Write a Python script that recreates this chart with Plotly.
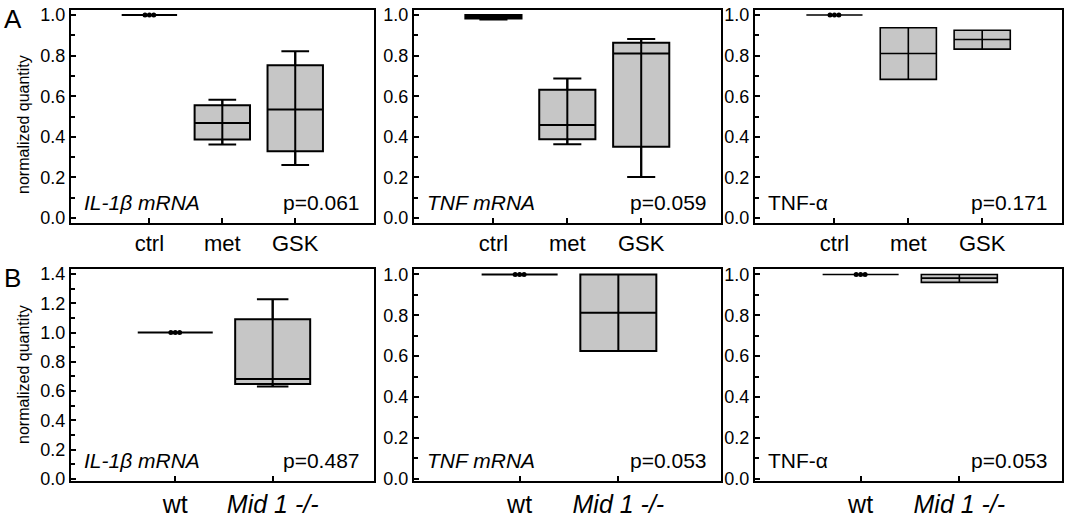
import plotly.graph_objects as go

# ---------------- data ----------------
A_cats = ["ctrl", "met", "GSK"]
B_cats = ["wt", "<i>Mid 1 -/-</i>"]

# Row A, panel 1: IL-1β mRNA
a1_lo = [1.0, 0.362, 0.262]
a1_q1 = [1.0, 0.387, 0.329]
a1_med = [1.0, 0.468, 0.535]
a1_q3 = [1.0, 0.556, 0.752]
a1_hi = [1.0, 0.583, 0.821]
a1_dots = [1.0, 1.0, 1.0]

# Row A, panel 2: TNF mRNA
a2_lo = [0.978, 0.364, 0.202]
a2_q1 = [0.982, 0.388, 0.351]
a2_med = [0.990, 0.458, 0.810]
a2_q3 = [1.0, 0.632, 0.863]
a2_hi = [1.0, 0.687, 0.882]
a2_dots = []

# Row A, panel 3: TNF-α
a3_lo = [1.0, 0.683, 0.832]
a3_q1 = [1.0, 0.683, 0.832]
a3_med = [1.0, 0.810, 0.879]
a3_q3 = [1.0, 0.937, 0.925]
a3_hi = [1.0, 0.937, 0.925]
a3_dots = [1.0, 1.0, 1.0]

# Row B, panel 1: IL-1β mRNA
b1_lo = [1.0, 0.632]
b1_q1 = [1.0, 0.648]
b1_med = [1.0, 0.683]
b1_q3 = [1.0, 1.090]
b1_hi = [1.0, 1.228]
b1_dots = [1.0, 1.0, 1.0]

# Row B, panel 2: TNF mRNA
b2_lo = [1.0, 0.625]
b2_q1 = [1.0, 0.625]
b2_med = [1.0, 0.812]
b2_q3 = [1.0, 1.0]
b2_hi = [1.0, 1.0]
b2_dots = [1.0, 1.0, 1.0]

# Row B, panel 3: TNF-α
b3_lo = [1.0, 0.961]
b3_q1 = [1.0, 0.961]
b3_med = [1.0, 0.982]
b3_q3 = [1.0, 1.0]
b3_hi = [1.0, 1.0]
b3_dots = [1.0, 1.0, 1.0]

labels = ["<i>IL-1β mRNA</i>", "<i>TNF mRNA</i>", "TNF-α"]
pvals_A = ["p=0.061", "p=0.059", "p=0.171"]
pvals_B = ["p=0.487", "p=0.053", "p=0.053"]
y_title = "normalized quantity"

# ---------------- layout constants ----------------
W, H = 1065, 518
FONT = "Liberation Sans, Arial, sans-serif"
FILL = "#c6c6c6"

col_px = [(71, 374), (414, 721), (755, 1062)]
rowA_px = (5, 224.5)
rowB_px = (272, 490)

def xdom(c):
    return [col_px[c][0] / W, col_px[c][1] / W]

def ydom(r):
    t, b = r
    return [1 - b / H, 1 - t / H]

panels = [
    dict(row="A", col=0, cats=A_cats, lo=a1_lo, q1=a1_q1, med=a1_med, q3=a1_q3, hi=a1_hi, dots=a1_dots,
         label=labels[0], p=pvals_A[0]),
    dict(row="A", col=1, cats=A_cats, lo=a2_lo, q1=a2_q1, med=a2_med, q3=a2_q3, hi=a2_hi, dots=a2_dots,
         label=labels[1], p=pvals_A[1]),
    dict(row="A", col=2, cats=A_cats, lo=a3_lo, q1=a3_q1, med=a3_med, q3=a3_q3, hi=a3_hi, dots=a3_dots,
         label=labels[2], p=pvals_A[2]),
    dict(row="B", col=0, cats=B_cats, lo=b1_lo, q1=b1_q1, med=b1_med, q3=b1_q3, hi=b1_hi, dots=b1_dots,
         label=labels[0], p=pvals_B[0]),
    dict(row="B", col=1, cats=B_cats, lo=b2_lo, q1=b2_q1, med=b2_med, q3=b2_q3, hi=b2_hi, dots=b2_dots,
         label=labels[1], p=pvals_B[1]),
    dict(row="B", col=2, cats=B_cats, lo=b3_lo, q1=b3_q1, med=b3_med, q3=b3_q3, hi=b3_hi, dots=b3_dots,
         label=labels[2], p=pvals_B[2]),
]

fig = go.Figure()
annotations = []

for i, pn in enumerate(panels):
    k = i + 1
    xa = "x" if k == 1 else f"x{k}"
    ya = "y" if k == 1 else f"y{k}"
    isA = pn["row"] == "A"
    pos = list(range(1, len(pn["cats"]) + 1))
    bw = 0.76 if isA else 0.77
    lw = 2 if pn["col"] < 2 else 1.6

    fig.add_trace(go.Box(
        x=pos, q1=pn["q1"], median=pn["med"], q3=pn["q3"],
        lowerfence=pn["lo"], upperfence=pn["hi"],
        width=bw, whiskerwidth=0.5 if isA else 0.42,
        fillcolor=FILL, line=dict(color="black", width=lw),
        boxpoints=False, xaxis=xa, yaxis=ya, showlegend=False, hoverinfo="skip",
    ))
    # vertical centre line running from min to max through each box
    for j, p in enumerate(pos):
        if pn["hi"][j] > pn["lo"][j]:
            fig.add_trace(go.Scatter(
                x=[p, p], y=[pn["lo"][j], pn["hi"][j]], mode="lines",
                line=dict(color="black", width=lw), xaxis=xa, yaxis=ya,
                showlegend=False, hoverinfo="skip",
            ))
    # individual points on the reference group
    n = len(pn["dots"])
    if n:
        step = 0.06 if isA else 0.045
        fig.add_trace(go.Scatter(
            x=[pos[0] + (m - (n - 1) / 2) * step for m in range(n)], y=pn["dots"],
            mode="markers", marker=dict(color="black", size=5),
            xaxis=xa, yaxis=ya, showlegend=False, hoverinfo="skip",
        ))

    ax_name = "xaxis" if k == 1 else f"xaxis{k}"
    ay_name = "yaxis" if k == 1 else f"yaxis{k}"
    xr = [-0.075, 4.08] if isA else [-0.07, 3.04]
    if isA:
        yr = [-0.024, 1.025]
        yt = [0, 0.2, 0.4, 0.6, 0.8, 1.0]
    elif pn["col"] == 0:
        yr = [-0.013, 1.433]
        yt = [0, 0.2, 0.4, 0.6, 0.8, 1.0, 1.2, 1.4]
    else:
        yr = [-0.01, 1.026]
        yt = [0, 0.2, 0.4, 0.6, 0.8, 1.0]

    fig.layout[ax_name] = dict(
        domain=xdom(pn["col"]), range=xr, anchor=ya,
        tickvals=pos, ticktext=pn["cats"], ticks="inside", ticklen=5, tickwidth=1.5,
        tickcolor="black", showline=True, mirror=True, linecolor="black", linewidth=2,
        showgrid=False, zeroline=False, tickfont=dict(family=FONT, size=22 if isA else 25, color="black"),
    )
    fig.layout[ay_name] = dict(
        domain=ydom(rowA_px if isA else rowB_px), range=yr, anchor=xa,
        tickvals=yt, tickformat=".1f", ticks="inside", ticklen=5, tickwidth=1.5,
        tickcolor="black", showline=True, mirror=True, linecolor="black", linewidth=2,
        showgrid=False, zeroline=False, tickfont=dict(family=FONT, size=18, color="black"),
        minor=dict(dtick=0.1, tick0=0, ticks="inside", ticklen=4, tickwidth=1.5, tickcolor="black"),
    )

    annotations.append(dict(
        xref=f"{xa} domain", yref=f"{ya} domain", x=0.035, y=0.095,
        xanchor="left", yanchor="middle", text=pn["label"], showarrow=False,
        font=dict(family=FONT, size=21, color="black"),
    ))
    annotations.append(dict(
        xref=f"{xa} domain", yref=f"{ya} domain", x=0.962, y=0.095,
        xanchor="right", yanchor="middle", text=pn["p"], showarrow=False,
        font=dict(family=FONT, size=21, color="black"),
    ))

# y-axis titles and panel letters
annotations.append(dict(xref="paper", yref="paper", x=24 / W, y=1 - 123.5 / H, text=y_title,
                        textangle=-90, showarrow=False, xanchor="center", yanchor="middle",
                        font=dict(family=FONT, size=16, color="black")))
annotations.append(dict(xref="paper", yref="paper", x=24 / W, y=1 - 381 / H, text=y_title,
                        textangle=-90, showarrow=False, xanchor="center", yanchor="middle",
                        font=dict(family=FONT, size=16, color="black")))
annotations.append(dict(xref="paper", yref="paper", x=12.5 / W, y=1 - 14 / H, text="A",
                        showarrow=False, xanchor="center", yanchor="middle",
                        font=dict(family=FONT, size=26, color="black")))
annotations.append(dict(xref="paper", yref="paper", x=12 / W, y=1 - 281 / H, text="B",
                        showarrow=False, xanchor="center", yanchor="middle",
                        font=dict(family=FONT, size=26, color="black")))

fig.update_layout(
    width=W, height=H, margin=dict(l=0, r=0, t=0, b=0),
    paper_bgcolor="white", plot_bgcolor="white",
    annotations=annotations, showlegend=False,
)

fig.write_html(
    "out.html",
    config={"displayModeBar": False},
    post_script="document.body.style.margin='0px';document.body.style.overflow='hidden';",
)
